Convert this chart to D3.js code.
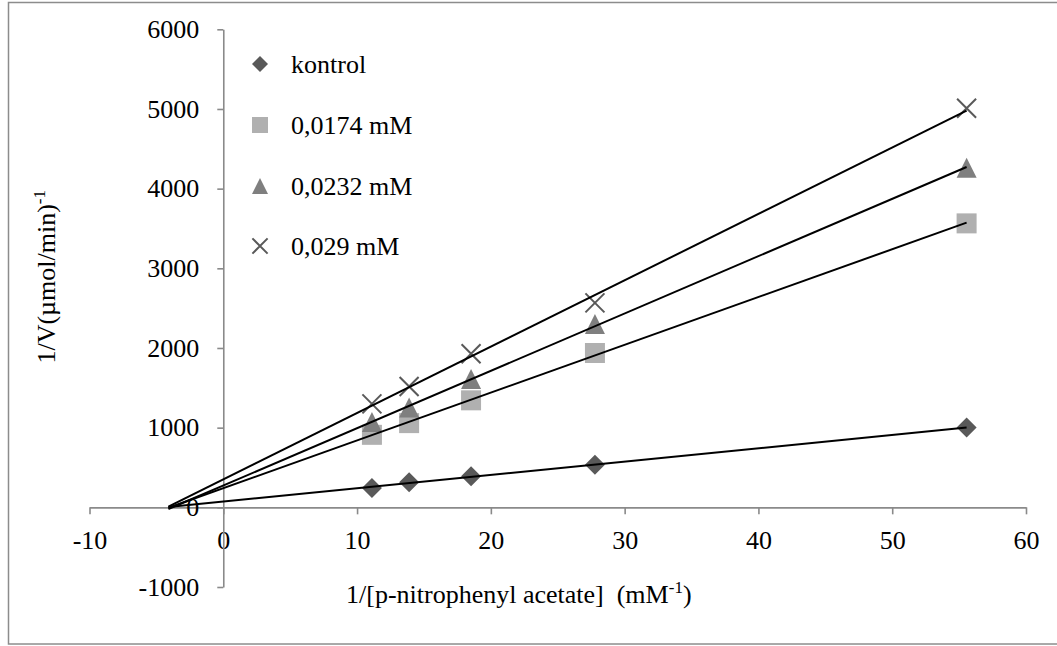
<!DOCTYPE html>
<html>
<head>
<meta charset="utf-8">
<script src="https://cdn.jsdelivr.net/npm/d3@7"></script>
<style>
  body { margin: 0; background: #fff; }
  svg { display: block; }
  text { font-family: "Liberation Serif", "Times New Roman", serif; fill: #000; }
</style>
</head>
<body>
<script>
// Lineweaver–Burk data: 1/[S] (mM^-1) against 1/V for each inhibitor level
const invSubstrate = [11.11, 13.89, 18.52, 27.78, 55.56];
const kontrol = [244, 314, 390, 533, 1001];
const inh0174 = [910, 1057, 1343, 1937, 3564];
const inh0232 = [1072, 1253, 1610, 2302, 4262];
const inh029 = [1299, 1517, 1928, 2566, 5010];
const seriesNames = ["kontrol", "0,0174 mM", "0,0232 mM", "0,029 mM"];
const xTicks = [-10, 0, 10, 20, 30, 40, 50, 60];
const yTicks = [-1000, 0, 1000, 2000, 3000, 4000, 5000, 6000];
const trendFrom = -4.1; // trendlines are forecast backward to this 1/[S]

const W = 1057, H = 646;
const svg = d3.select("body").append("svg").attr("width", W).attr("height", H);

// outer chart frame
svg.append("rect")
  .attr("x", 8.5).attr("y", 2.5).attr("width", W + 10).attr("height", 641.5)
  .attr("fill", "none").attr("stroke", "#8c8c8c").attr("stroke-width", 1.5);

const x = d3.scaleLinear().domain([-10, 60]).range([89.5, 1026]);
const y = d3.scaleLinear().domain([-1000, 6000]).range([587, 29.3]);

const axisColor = "#8a8a8a";
const plain = d => String(d); // plain integers with an ASCII hyphen for negatives

// x axis crossing at y = 0
const gx = svg.append("g")
  .attr("transform", `translate(0,${y(0)})`)
  .call(d3.axisBottom(x).tickValues(xTicks).tickFormat(plain)
    .tickSize(7).tickSizeOuter(0).tickPadding(16.5));
// y axis crossing at x = 0
const gy = svg.append("g")
  .attr("transform", `translate(${x(0)},0)`)
  .call(d3.axisLeft(y).tickValues(yTicks).tickFormat(plain)
    .tickSize(6).tickSizeOuter(0).tickPadding(18));

[gx, gy].forEach(g => {
  g.attr("font-family", null).attr("font-size", null);
  g.selectAll("path, line").attr("stroke", axisColor).attr("stroke-width", 1.6);
  g.selectAll("text").attr("font-size", 26).attr("fill", "#000");
});

// marker shapes
const markerFill = ["#595959", "#b0b0b0", "#7f7f7f", "none"];
function drawMarker(g, i, cx, cy, s) {
  const h = s / 2;
  if (i === 0) {
    g.append("path").attr("d", `M${cx},${cy - h}L${cx + h},${cy}L${cx},${cy + h}L${cx - h},${cy}Z`)
      .attr("fill", markerFill[0]);
  } else if (i === 1) {
    g.append("rect").attr("x", cx - h).attr("y", cy - h).attr("width", s).attr("height", s)
      .attr("fill", markerFill[1]);
  } else if (i === 2) {
    g.append("path").attr("d", `M${cx},${cy - h}L${cx + h},${cy + h}L${cx - h},${cy + h}Z`)
      .attr("fill", markerFill[2]);
  } else {
    const k = h * 0.95;
    g.append("path").attr("d", `M${cx - k},${cy - k}L${cx + k},${cy + k}M${cx - k},${cy + k}L${cx + k},${cy - k}`)
      .attr("stroke", "#595959").attr("stroke-width", 2).attr("fill", "none");
  }
}

const allSeries = [kontrol, inh0174, inh0232, inh029];

// data markers
const gm = svg.append("g");
allSeries.forEach((vals, i) => {
  vals.forEach((v, j) => drawMarker(gm, i, x(invSubstrate[j]), y(v), 20));
});

// least-squares trendlines
function fit(xs, ys) {
  const mx = d3.mean(xs), my = d3.mean(ys);
  let sxy = 0, sxx = 0;
  xs.forEach((xv, k) => { sxy += (xv - mx) * (ys[k] - my); sxx += (xv - mx) ** 2; });
  const b = sxy / sxx;
  return { b, a: my - b * mx };
}
const gl = svg.append("g");
allSeries.forEach(vals => {
  const { a, b } = fit(invSubstrate, vals);
  const x1 = d3.max(invSubstrate);
  gl.append("line")
    .attr("x1", x(trendFrom)).attr("y1", y(a + b * trendFrom))
    .attr("x2", x(x1)).attr("y2", y(a + b * x1))
    .attr("stroke", "#000").attr("stroke-width", 2);
});

// legend
const legendY = [64, 125, 186, 246];
const gLeg = svg.append("g");
seriesNames.forEach((name, i) => {
  drawMarker(gLeg, i, 260, legendY[i], 16);
  gLeg.append("text").attr("x", 291).attr("y", legendY[i] + 9)
    .attr("font-size", 26).text(name);
});

// axis titles
const xt = svg.append("text").attr("x", 346).attr("y", 603).attr("font-size", 26);
xt.append("tspan").text("1/[p-nitrophenyl acetate]\u00a0\u00a0(mM");
xt.append("tspan").attr("font-size", 17).attr("dy", -10).text("-1");
xt.append("tspan").attr("dy", 10).text(")");

const yt = svg.append("text").attr("text-anchor", "end").attr("font-size", 26)
  .attr("transform", "translate(55,190) rotate(-90)");
yt.append("tspan").text("1/V(\u00b5mol/min)");
yt.append("tspan").attr("font-size", 17).attr("dy", -10).text("-1");
</script>
</body>
</html>
